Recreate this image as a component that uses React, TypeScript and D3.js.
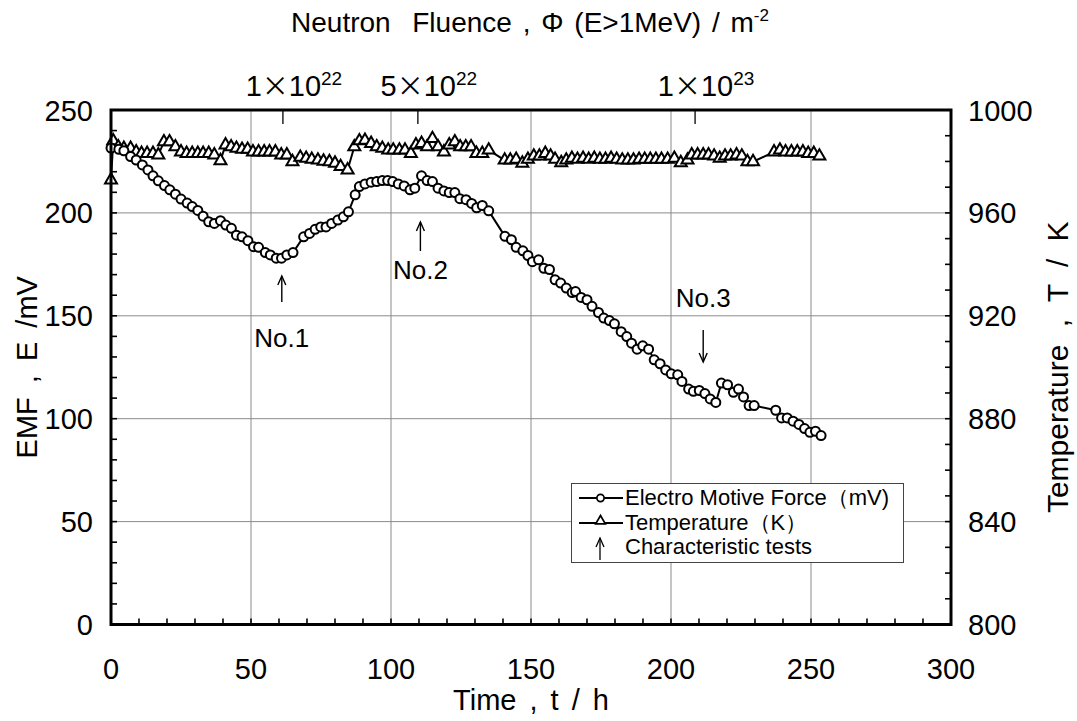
import React from "react";
import * as d3 from "d3";

// EMF series (time h, EMF mV)
const emfTime = [0,2.8,4.6,7,9,11.2,13.2,15,16.9,19.1,21,23,25,27.2,29,31,32.9,34.9,36.9,39.1,41,43,44.8,46.8,48.9,50.9,52.7,55.1,56.9,59,60.9,62.8,65,68.8,70.9,72.9,74.9,76.8,78.8,81,83,84.8,87.2,88.7,90.7,92.9,94.9,96.9,98.8,100.6,102.6,104.7,106.8,108.5,110.9,112.9,114.8,116.8,118.9,120.8,122.8,124.6,126.8,128.8,130.6,132.6,134.9,140.7,143,144.7,147.1,148.9,150.5,152.7,154.6,156.6,158.6,160.6,162.6,164.7,165.9,167.9,170,171.8,174.1,176,178,179.8,182.2,184.2,185.9,187.9,189.9,192,194,196.1,198.1,200.1,202.4,203.9,206.3,208,210.1,212.1,214,216,218,220.2,222.3,224.1,225.9,227.9,229.7,237.4,239.5,241.5,243.6,245.7,247.7,249.6,251.6,253.6];
const emfValue = [231.5,230.9,230.2,227.4,225.7,223.3,220.9,218,215.6,213.3,211.2,209.1,206.7,204.8,203.1,201.2,198.4,195.7,194.9,196.2,194.1,192.5,189.2,188.4,186.5,183.6,183.3,180.7,179.6,178,178,179.6,180.7,188.4,190,192,193.2,193.2,194.9,196.5,198.1,200.5,208.8,212.8,214.1,214.9,215.2,215.7,215.7,215.2,214.1,213.1,211.2,212,218,215.7,215.2,212,210.7,209.9,209.9,206.9,206.4,204.6,202.5,203.6,201,188.6,187,183.3,181.6,179.3,176.3,177.2,173.1,172.5,167.5,165.9,163.5,161.3,161.8,158.9,157.8,154.6,151.6,148.9,147.7,146.1,142.3,139.9,136.7,133.8,135.4,133.8,128.6,126.7,123.7,121.8,121.3,118.1,114.4,113.3,113.7,112.2,109.6,107.9,117.3,116.5,112.8,114.4,110.6,106.4,106.4,104.1,100.4,100.4,98.8,97.2,95.2,93.4,93.9,91.8];

// Temperature series (time h, K)
const tempTime = [0,0.8,2.6,4.6,7,9,10.9,12.9,15,16.9,18.9,20.9,23,25,27,29,31,32.9,34.9,36.9,39.1,40.9,42.9,44.8,46.8,48.8,50.7,52.7,54.7,56.6,58.7,60.8,62.8,64.8,67.6,69.7,71.7,73.9,75.9,78,80,82,84.5,86.9,88.7,90.7,92.9,94.9,96.9,99,100.8,103,105,107.1,108.9,110.9,112.9,114.8,116.8,118.9,120.8,122.8,124.7,126.7,128.6,130.5,132.6,134.9,140.6,142.6,144.7,146.9,148.9,151,153,155.1,157,158.6,160.8,162.6,164.6,166.6,168.6,170.6,172.6,174.6,176.6,178.6,180.6,182.6,184.6,186.6,188.6,190.6,192.6,194.6,196.6,198.8,201.2,203.5,205.9,207.4,209.5,211.5,213.4,215.4,217.4,219.3,221.3,223.4,225.3,227.3,229.3,236.8,238.9,240.9,243,245.1,247.1,249,251,253];
const tempValue = [972.8,988,985.7,985.1,985.1,983.7,983.1,983.1,983.1,982.5,987.6,987.6,985.7,983.7,983.1,983.1,983.1,983.1,983.1,982.5,980.3,986.4,985.7,985.1,984.7,984.7,983.7,983.7,983.7,983.7,983.7,982.5,982.5,979.9,981.6,981.2,980.8,980.5,980.1,979.9,979.3,978,976.7,985.7,988,988.2,987,985.7,985.1,984.4,984.4,984.4,984.4,983.1,986.4,987,985.7,988.9,985.7,983.7,986.4,987.6,985.7,985.7,985.7,983.1,983.1,984.4,980.5,980.5,980.8,979.3,980.8,982.1,982.1,983.1,982.1,980.8,979.5,980.5,981.2,980.8,981.2,980.8,981.2,980.8,980.8,981.2,980.8,980.5,980.5,980.5,980.8,980.8,980.8,980.8,980.8,980.8,981.2,979.5,980.5,982.5,982.5,982.5,982.5,982.1,981.2,982.1,982.1,982.5,982.1,979.9,979.9,983.7,984.4,983.7,983.7,983.7,983.7,983.1,983.1,982.1];

const xTicks = [0, 50, 100, 150, 200, 250, 300];
const yTicks = [0, 50, 100, 150, 200, 250];
const tTicks = [800, 840, 880, 920, 960, 1000];
const fluenceTicks = [
  { t: 61.4, mant: "1", exp: "22" },
  { t: 109.6, mant: "5", exp: "22" },
  { t: 208.6, mant: "1", exp: "23" },
];
const notes = [
  { t: 61, label: "No.1", y0: 302, y1: 276, ly: 338 },
  { t: 110.5, label: "No.2", y0: 251, y1: 222, ly: 270 },
  { t: 211.5, label: "No.3", y0: 330, y1: 362, ly: 298 },
];

const FONT = "'Liberation Sans', Arial, Helvetica, sans-serif";
const L = 111, R = 951, T = 110, B = 624.5;

function Arrow({ x, y0, y1, w = 1.4 }: { x: number; y0: number; y1: number; w?: number }) {
  const d = y1 < y0 ? 1 : -1;
  return (
    <g stroke="#000" strokeWidth={w} fill="none">
      <line x1={x} y1={y0} x2={x} y2={y1} />
      <polyline points={`${x - 4},${y1 + d * 9} ${x},${y1} ${x + 4},${y1 + d * 9}`} />
    </g>
  );
}

export default function App() {
  const x = d3.scaleLinear().domain([0, 300]).range([L, R]);
  const y = d3.scaleLinear().domain([0, 250]).range([B, T]);
  const yT = d3.scaleLinear().domain([800, 1000]).range([B, T]);

  const emf = emfTime.map((t, i) => [t, emfValue[i]] as [number, number]);
  const temp = tempTime.map((t, i) => [t, tempValue[i]] as [number, number]);

  const emfLine = d3.line<[number, number]>().x(d => x(d[0])).y(d => y(d[1]))(emf) || "";
  const tempLine = d3.line<[number, number]>().x(d => x(d[0])).y(d => yT(d[1]))(temp) || "";
  const tri = d3.symbol().type(d3.symbolTriangle).size(62)() || "";

  const minorX = d3.range(10, 300, 10);
  const minorY = d3.range(10, 250, 10);
  const minorT = d3.range(810, 1000, 10);

  return (
    <svg width={1077} height={721} style={{ position: "absolute", left: 0, top: 0, background: "#fff" }} fontFamily={FONT}>
      <rect x={0} y={0} width={1077} height={721} fill="#fff" />
      <g stroke="#8a8a8a" strokeWidth={1}>
        {xTicks.filter(v => v > 0 && v < 300).map(v => (
          <line key={"gx" + v} x1={x(v)} x2={x(v)} y1={T} y2={B} />
        ))}
        {yTicks.filter(v => v > 0 && v < 250).map(v => (
          <line key={"gy" + v} x1={L} x2={R} y1={y(v)} y2={y(v)} />
        ))}
      </g>
      <g stroke="#000" strokeWidth={1.6}>
        {minorX.map(v => <line key={"mx" + v} x1={x(v)} x2={x(v)} y1={B} y2={B - 6} />)}
        {minorY.map(v => <line key={"my" + v} x1={L} x2={L + 6} y1={y(v)} y2={y(v)} />)}
        {minorT.map(v => <line key={"mt" + v} x1={R} x2={R - 6} y1={yT(v)} y2={yT(v)} />)}
        {fluenceTicks.map(f => <line key={"ft" + f.t} x1={x(f.t)} x2={x(f.t)} y1={T} y2={T + 14} strokeWidth={1.3} />)}
      </g>

      <g>
        <rect x={571.5} y={483.5} width={332} height={79} fill="#fff" stroke="#444" strokeWidth={1} />
        <line x1={579} x2={623} y1={498} y2={498} stroke="#000" strokeWidth={2} />
        <circle cx={600.5} cy={498} r={3.6} fill="#fff" stroke="#000" strokeWidth={1.7} />
        <line x1={579} x2={623} y1={523} y2={523} stroke="#000" strokeWidth={2} />
        <path d={d3.symbol().type(d3.symbolTriangle).size(40)() || ""} transform={`translate(600.5,521)`} fill="#fff" stroke="#000" strokeWidth={1.7} />
        <Arrow x={600} y0={560} y1={538} w={1.3} />
        <g fontSize={22}>
          <text x={625} y={505}>Electro Motive Force（mV)</text>
          <text x={625} y={530}>Temperature（K）</text>
          <text x={625} y={554}>Characteristic tests</text>
        </g>
      </g>

      <path d={tempLine} fill="none" stroke="#000" strokeWidth={2} />
      {temp.map((d, i) => (
        <path key={"t" + i} d={tri} transform={`translate(${x(d[0])},${yT(d[1])})`} fill="#fff" stroke="#000" strokeWidth={2} />
      ))}
      <path d={emfLine} fill="none" stroke="#000" strokeWidth={2} />
      {emf.map((d, i) => (
        <circle key={"e" + i} cx={x(d[0])} cy={y(d[1])} r={4.5} fill="#fff" stroke="#000" strokeWidth={2} />
      ))}

      {notes.map(n => (
        <g key={n.label}>
          <Arrow x={x(n.t)} y0={n.y0} y1={n.y1} />
          <text x={x(n.t)} y={n.ly} fontSize={26} textAnchor="middle" dominantBaseline="central">{n.label}</text>
        </g>
      ))}

      <rect x={L} y={T} width={R - L} height={B - T} fill="none" stroke="#000" strokeWidth={3} />

      <g fontSize={29} fill="#000">
        {xTicks.map(v => (
          <text key={"xl" + v} x={x(v)} y={679} textAnchor="middle">{v}</text>
        ))}
        {yTicks.map(v => (
          <text key={"yl" + v} x={93} y={y(v) + 10.5} textAnchor="end">{v}</text>
        ))}
        {tTicks.map(v => (
          <text key={"tl" + v} x={968} y={yT(v) + 10.5} textAnchor="start">{v}</text>
        ))}
      </g>
      <g fontSize={29}>
        {fluenceTicks.map(f => (
          <text key={"fl" + f.t} x={x(f.t) + 11} y={96} textAnchor="middle">
            {f.mant}<tspan fontFamily="'Noto Sans CJK JP'" fontSize={27}>×</tspan>10<tspan fontSize={19} dy={-11}>{f.exp}</tspan>
          </text>
        ))}
      </g>

      <text x={530} y={32} fontSize={28} textAnchor="middle" wordSpacing={3}>
        Neutron{"\u00a0\u00a0"}Fluence , Φ (E&gt;1MeV) / m<tspan fontSize={17} dy={-11}>-2</tspan>
      </text>
      <text x={531} y={710} fontSize={29} textAnchor="middle" wordSpacing={5}>Time , t / h</text>
      <text transform={`translate(37,${(T + B) / 2}) rotate(-90)`} fontSize={29} textAnchor="middle" wordSpacing={6}>EMF , E /mV</text>
      <text transform={`translate(1068,${(T + B) / 2}) rotate(-90)`} fontSize={30} textAnchor="middle" wordSpacing={9}>Temperature , T / K</text>
    </svg>
  );
}
